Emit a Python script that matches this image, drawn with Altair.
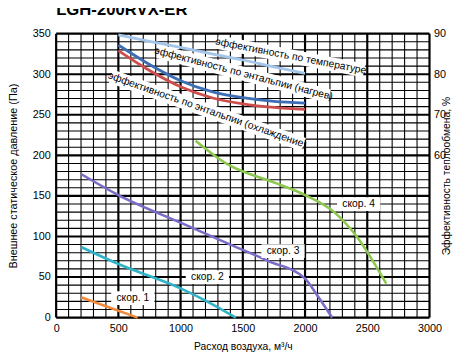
import altair as alt
import pandas as pd

FONT = "Liberation Sans, Arial, sans-serif"

# ---- fan speed curves (air flow m3/h -> external static pressure Pa)
s1_x = [200, 400, 655]
s1_y = [25, 14, 0]
s2_x = [200, 500, 1000, 1200, 1444]
s2_y = [87, 66, 36, 21, 0]
s3_x = [200, 500, 1000, 1400, 1700, 2000, 2100, 2218]
s3_y = [177, 151, 117, 90, 70, 48, 27, 0]
s4_x = [1120, 1365, 1760, 2000, 2234, 2415, 2652]
s4_y = [218, 190, 166, 151, 130, 100, 42]
speed_names = ["скор. 1", "скор. 2", "скор. 3", "скор. 4"]
speed_colors = ["#f28a3c", "#2fb3c9", "#7a6cc8", "#8cc84e"]

# ---- efficiency curves (%)
eff_x = [500, 750, 1000, 1250, 1500, 1750, 2000]
eff_temp = [89.7, 88.1, 86.6, 85.0, 83.5, 81.8, 80.2]
eff_heat = [87.2, 82.4, 78.4, 75.7, 74.2, 73.3, 72.9]
eff_cool = [85.8, 80.9, 76.9, 74.2, 72.7, 71.8, 71.3]
eff_names = ["эффективность по температуре",
             "эффективность по энтальпии (нагрев)",
             "эффективность по энтальпии (охлаждение)"]
eff_colors = ["#a4c5ea", "#3c6db5", "#cc4d4b"]

# ---- label annotations
speed_lab_x = [616, 1215, 1823, 2431]
speed_lab_y = [24, 50, 82, 140]
eff_lab_x = [1886, 1507, 1215]
eff_lab_y = [84.4, 80.1, 71.1]
eff_lab_angle = [11, 14.7, 19.5]
eff_lab_w = [152, 180, 208]

# ---- ticks / grid
x_grid = list(range(0, 3001, 100))
y_grid = list(range(0, 351, 10))
x_labels = [0, 500, 1000, 1500, 2000, 2500, 3000]
y_labels = [0, 50, 100, 150, 200, 250, 300, 350]
eff_labels = [60, 70, 80, 90]

rows = []
for name, xs, ys in zip(speed_names, [s1_x, s2_x, s3_x, s4_x], [s1_y, s2_y, s3_y, s4_y]):
    for xv, yv in zip(xs, ys):
        rows.append({"series": name, "flow": xv, "pa": yv})
speed_df = pd.DataFrame(rows)

rows = []
for name, ys in zip(eff_names, [eff_temp, eff_heat, eff_cool]):
    for xv, yv in zip(eff_x, ys):
        rows.append({"series": name, "flow": xv, "eff": yv})
eff_df = pd.DataFrame(rows)

xscale = alt.Scale(domain=[0, 3000], nice=False, zero=False)
yscale = alt.Scale(domain=[0, 350], nice=False, zero=False)
escale = alt.Scale(domain=[20, 90], nice=False, zero=False)

x_axis = alt.Axis(
    values=x_labels, format="d", grid=False, ticks=False, domain=False,
    labelOverlap=False, labelFlush=False, labelPadding=5,
    labelFont=FONT, labelFontSize=11, labelColor="#000000",
    title="Расход воздуха, м³/ч", titleFont=FONT, titleFontSize=10.5,
    titleFontWeight="normal", titleColor="#000000",
    titleX=190, titleY=30, titleBaseline="middle", titleAlign="center",
)
y_axis = alt.Axis(
    values=y_labels, format="d", grid=False, ticks=False, domain=False,
    labelOverlap=False, labelFlush=False, labelPadding=6,
    labelFont=FONT, labelFontSize=11, labelColor="#000000",
    title="Внешнее статическое давление (Па)", titleFont=FONT, titleFontSize=11,
    titleFontWeight="normal", titleColor="#000000",
    titleX=-43, titleY=144.5, titleAngle=270, titleBaseline="middle", titleAlign="center",
)
e_axis = alt.Axis(
    orient="right", values=eff_labels, format="d",
    grid=False, ticks=False, domain=False, labelPadding=4,
    labelOverlap=False, labelFlush=False,
    labelFont=FONT, labelFontSize=11, labelColor="#000000",
    title="Эффективность теплообмена, %", titleFont=FONT, titleFontSize=10.5,
    titleFontWeight="normal", titleColor="#000000",
    titleX=17, titleY=144.5, titleAngle=270, titleBaseline="middle", titleAlign="center",
)

xg = pd.DataFrame({"v": x_grid})
xg["major"] = xg["v"] % 500 == 0
yg = pd.DataFrame({"v": y_grid})
yg["major"] = yg["v"] % 50 == 0

grid_v = alt.Chart(xg).mark_rule(color="#000000").encode(
    x=alt.X("v:Q", scale=xscale, axis=x_axis),
    strokeWidth=alt.condition("datum.major", alt.value(2.2), alt.value(1.1)),
)
grid_h = alt.Chart(yg).mark_rule(color="#000000").encode(
    y=alt.Y("v:Q", scale=yscale, axis=y_axis),
    strokeWidth=alt.condition("datum.major", alt.value(2.2), alt.value(1.1)),
)

speed_lines = alt.Chart(speed_df).mark_line(strokeWidth=2.6, interpolate="monotone").encode(
    x=alt.X("flow:Q", scale=xscale),
    y=alt.Y("pa:Q", scale=yscale),
    color=alt.Color("series:N", scale=alt.Scale(domain=speed_names, range=speed_colors), legend=None),
    detail="series:N",
)

speed_lab_df = pd.DataFrame({"text": speed_names, "flow": speed_lab_x, "pa": speed_lab_y})
sw, sh = 44, 14
speed_boxes = alt.Chart(speed_lab_df).mark_point(
    shape=f"M-1,{-sh / sw}L1,{-sh / sw}L1,{sh / sw}L-1,{sh / sw}Z",
    size=sw * sw, filled=True, fill="white", opacity=1, strokeWidth=0,
).encode(x=alt.X("flow:Q", scale=xscale), y=alt.Y("pa:Q", scale=yscale))
speed_texts = alt.Chart(speed_lab_df).mark_text(
    font=FONT, fontSize=10.5, color="#000000", align="center", baseline="middle",
).encode(x=alt.X("flow:Q", scale=xscale), y=alt.Y("pa:Q", scale=yscale), text="text:N")

title_mark = alt.Chart(speed_lab_df.head(1)).mark_text(
    font=FONT, fontSize=17, fontWeight="bold",
    align="left", baseline="alphabetic", color="#000000",
).encode(x=alt.value(0), y=alt.value(-19), text=alt.value("LGH-200RVX-ER"))

left = alt.layer(grid_v, grid_h, speed_lines, speed_boxes, speed_texts, title_mark)

eff_lines = alt.Chart(eff_df).mark_line(strokeWidth=2.8, interpolate="monotone").encode(
    x=alt.X("flow:Q", scale=xscale),
    y=alt.Y("eff:Q", scale=escale, axis=e_axis),
    color=alt.Color("series:N", scale=alt.Scale(domain=eff_names, range=eff_colors), legend=None),
    detail="series:N",
)

eff_layers = [eff_lines]
eh = 14
for t, xv, yv, ang, w in zip(eff_names, eff_lab_x, eff_lab_y, eff_lab_angle, eff_lab_w):
    d = pd.DataFrame({"text": [t], "flow": [xv], "eff": [yv]})
    r = eh / w
    eff_layers.append(alt.Chart(d).mark_point(
        shape=f"M-1,{-r}L1,{-r}L1,{r}L-1,{r}Z", size=w * w, angle=ang,
        filled=True, fill="white", opacity=1, strokeWidth=0,
    ).encode(x=alt.X("flow:Q", scale=xscale), y=alt.Y("eff:Q", scale=escale)))
    eff_layers.append(alt.Chart(d).mark_text(
        font=FONT, fontSize=10.5, color="#000000", align="center", baseline="middle", angle=ang,
    ).encode(x=alt.X("flow:Q", scale=xscale), y=alt.Y("eff:Q", scale=escale), text="text:N"))

right = alt.layer(*eff_layers)

chart = alt.layer(left, right).resolve_scale(y="independent", color="independent").properties(
    width=380, height=289,
    autosize=alt.AutoSizeParams(type="none"),
    padding={"left": 49, "top": 23, "right": 28, "bottom": 36},
).configure_view(stroke="#000000", strokeWidth=2.2).configure(background="white")

chart.save("out.html", embed_options={"renderer": "svg", "actions": False})
